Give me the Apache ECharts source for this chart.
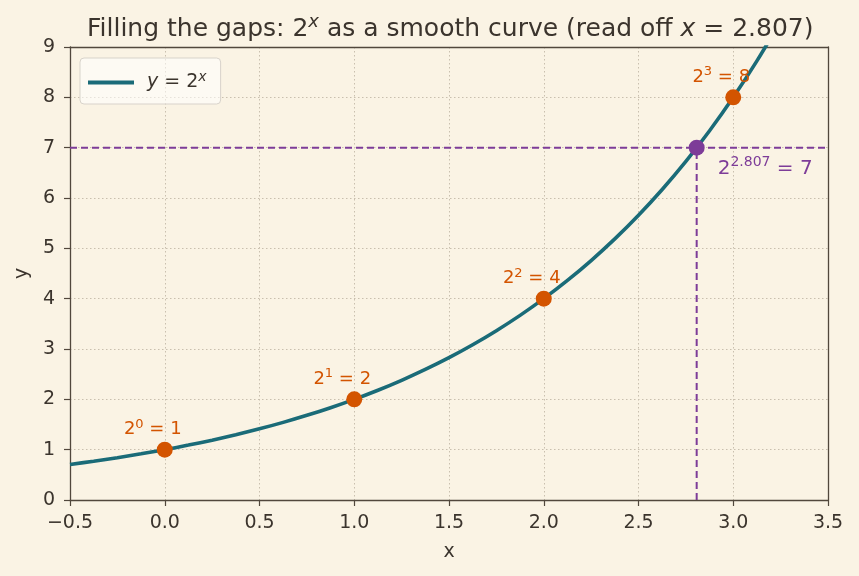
<!DOCTYPE html>
<html>
<head>
<meta charset="utf-8">
<script src="https://cdn.jsdelivr.net/npm/echarts@6/dist/echarts.min.js"></script>
<style>
  html, body { margin: 0; padding: 0; background: #faf3e4; }
  #chart { width: 859px; height: 576px; }
</style>
</head>
<body>
<div id="chart"></div>
<script>
// curve samples
let curveX = [-0.5, -0.375, -0.25, -0.125, 0, 0.125, 0.25, 0.375, 0.5, 0.625, 0.75, 0.875, 1, 1.125, 1.25, 1.375, 1.5,
    1.625, 1.75, 1.875, 2, 2.125, 2.25, 2.375, 2.5, 2.625, 2.75, 2.875, 3, 3.125, 3.25];
let curveY = [0.707, 0.771, 0.841, 0.917, 1, 1.091, 1.189, 1.297, 1.414, 1.542, 1.682, 1.834, 2, 2.181, 2.378, 2.594, 2.828,
    3.084, 3.364, 3.668, 4, 4.362, 4.757, 5.187, 5.657, 6.169, 6.727, 7.336, 8, 8.724, 9.514];
// integer points
let pointX = [0, 1, 2, 3];
let pointY = [1, 2, 4, 8];
let pointExp = ['0', '1', '2', '3'];
// read-off point
let readX = 2.807;
let readY = 7;
let xMin = -0.5, xMax = 3.5, yMin = 0, yMax = 9;

let textColor = '#3b342d';
let axisColor = '#51473c';
let teal = '#1a6b78';
let orange = '#d35400';
let purple = '#7d3c98';

let chart = echarts.init(document.getElementById('chart'));

function supRich(color, size) {
    let base = { fontSize: size, color: color, fontFamily: 'DejaVu Sans', fontWeight: 'normal', lineHeight: Math.round(size * 1.3) };
    let sup = { fontSize: Math.round(size * 0.72), verticalAlign: 'top', lineHeight: Math.round(size * 0.7) };
    return {
        b: base,
        s: Object.assign({}, base, sup),
        si: Object.assign({}, base, sup, { fontStyle: 'italic' }),
        i: Object.assign({}, base, { fontStyle: 'italic' })
    };
}

let frameAxis = {
    type: 'value', min: xMin, max: xMax,
    axisLine: { show: true, onZero: false, lineStyle: { color: axisColor, width: 1.3 } },
    axisTick: { show: false }, axisLabel: { show: false }, splitLine: { show: false }
};

let option = {
    backgroundColor: '#faf3e4',
    animation: false,
    title: {
        text: '{b|Filling the gaps: 2}{si|x}{b| as a smooth curve (read off }{i|x}{b| = 2.807)}',
        left: 82,
        top: 8,
        textStyle: { fontWeight: 'normal', rich: supRich(textColor, 25) }
    },
    legend: {
        left: 80,
        top: 58,
        orient: 'vertical',
        data: ['curve'],
        icon: 'rect',
        itemWidth: 46,
        itemHeight: 4,
        padding: [12, 14, 12, 8],
        backgroundColor: 'rgba(255,255,255,0.55)',
        borderColor: '#d8d3cb',
        borderWidth: 1,
        borderRadius: 4,
        formatter: function () { return '{i|y}{b| = 2}{si|x}'; },
        textStyle: { rich: supRich(textColor, 19), padding: [0, 0, 0, 8] }
    },
    grid: {
        left: 70, right: 31, top: 47, bottom: 76,
        show: false
    },
    xAxis: [{
        type: 'value', min: xMin, max: xMax, interval: 0.5,
        name: 'x', nameLocation: 'middle', nameGap: 43,
        nameTextStyle: { color: textColor, fontSize: 19, fontFamily: 'DejaVu Sans' },
        axisLine: { show: true, onZero: false, lineStyle: { color: axisColor, width: 1.3 } },
        axisTick: { show: true, length: 6, lineStyle: { color: axisColor, width: 1.2 } },
        axisLabel: {
            color: textColor, fontSize: 19, fontFamily: 'DejaVu Sans', margin: 14,
            formatter: function (v) { return v.toFixed(1).replace('-', '\u2212'); }
        },
        splitLine: { show: true, lineStyle: { color: '#c9bfae', type: [1.5, 2.5], width: 1 } }
    }, Object.assign({ position: 'top' }, frameAxis)],
    yAxis: [{
        type: 'value', min: yMin, max: yMax, interval: 1,
        name: 'y', nameLocation: 'middle', nameGap: 35,
        nameTextStyle: { color: textColor, fontSize: 19, fontFamily: 'DejaVu Sans' },
        axisLine: { show: true, onZero: false, lineStyle: { color: axisColor, width: 1.3 } },
        axisTick: { show: true, length: 6, lineStyle: { color: axisColor, width: 1.2 } },
        axisLabel: { color: textColor, fontSize: 19, fontFamily: 'DejaVu Sans', margin: 15 },
        splitLine: { show: true, lineStyle: { color: '#c9bfae', type: [1.5, 2.5], width: 1 } }
    }, Object.assign({}, frameAxis, { position: 'right', min: yMin, max: yMax })],
    series: [
        {
            name: 'hline',
            type: 'line',
            data: [[xMin, readY], [xMax, readY]],
            symbol: 'none',
            lineStyle: { color: purple, width: 2, type: [7, 4] },
            z: 2
        },
        {
            name: 'vline',
            type: 'line',
            data: [[readX, yMin], [readX, readY]],
            symbol: 'none',
            lineStyle: { color: purple, width: 2, type: [7, 4] },
            z: 2
        },
        {
            name: 'curve',
            type: 'line',
            data: curveX.map((x, i) => [x, curveY[i]]),
            smooth: 0.3,
            symbol: 'none',
            clip: true,
            lineStyle: { color: teal, width: 3.6 },
            itemStyle: { color: teal },
            z: 3
        },
        {
            name: 'points',
            type: 'scatter',
            data: pointX.map((x, i) => [x, pointY[i]]),
            symbolSize: 16,
            itemStyle: { color: orange, opacity: 1 },
            label: {
                show: true,
                position: 'top',
                distance: 1,
                offset: [-12, 0],
                formatter: function (p) {
                    return '{b|2}{s|' + pointExp[p.dataIndex] + '}{b| = ' + pointY[p.dataIndex] + '}';
                },
                rich: supRich(orange, 18)
            },
            z: 5
        },
        {
            name: 'read',
            type: 'scatter',
            data: [[readX, readY]],
            symbolSize: 16,
            itemStyle: { color: purple, opacity: 1 },
            label: {
                show: true,
                position: 'right',
                distance: 13,
                offset: [0, 21],
                formatter: function () { return '{b|2}{s|' + readX + '}{b| = ' + readY + '}'; },
                rich: supRich(purple, 20)
            },
            z: 5
        }
    ]
};

chart.setOption(option);
</script>
</body>
</html>
